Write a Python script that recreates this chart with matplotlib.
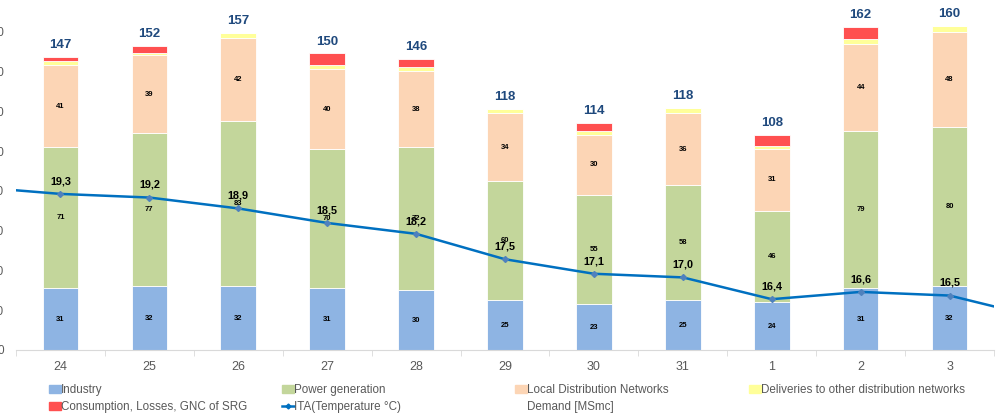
import numpy as np
import matplotlib
matplotlib.use("Agg")
import matplotlib.pyplot as plt
from matplotlib.patches import Patch
from matplotlib.lines import Line2D

plt.rcParams['font.family'] = ['Liberation Sans', 'DejaVu Sans']

# ===========================
# Data
# ===========================
days = ['24', '25', '26', '27', '28', '29', '30', '31', '1', '2', '3']
industry = [31, 32, 32, 31, 30, 25, 23, 25, 24, 31, 32]
power = [71, 77, 83, 70, 72, 60, 55, 58, 46, 79, 80]
ldn = [41, 39, 42, 40, 38, 34, 30, 36, 31, 44, 48]
deliveries = [2.3, 1.3, 2.5, 2.3, 2.3, 2.3, 2.2, 2.8, 1.3, 2.2, 2.8]
consumption = [2.1, 3.4, 0, 5.7, 3.8, 0, 4.0, 0, 5.8, 6.2, 0]
totals = [147, 152, 157, 150, 146, 118, 114, 118, 108, 162, 160]
temperature = [19.3, 19.2, 18.9, 18.5, 18.2, 17.5, 17.1, 17.0, 16.4, 16.6, 16.5]
# neighbouring days (outside the window, line runs off the edges)
temp_before = 19.5
temp_after = 15.9

c_ind = '#8EB4E3'
c_pow = '#C3D69B'
c_ldn = '#FCD5B5'
c_del = '#FFFF99'
c_con = '#FF5050'
c_line = '#0070C0'
c_grey = '#595959'

fig = plt.figure(figsize=(9.97, 4.2), dpi=100)
ax = fig.add_axes([16 / 997, 70 / 420, 978 / 997, 350 / 420])
ax2 = ax.twinx()

x = np.arange(len(days))
w = 0.40
bottom = np.zeros(len(days))
for vals, col, lab in [(industry, c_ind, True), (power, c_pow, True), (ldn, c_ldn, True),
                       (deliveries, c_del, False), (consumption, c_con, False)]:
    vals = np.array(vals, dtype=float)
    ax.bar(x, vals, w, bottom=bottom, color=col, edgecolor='white', linewidth=0.6)
    if lab:
        for xi, b, v in zip(x, bottom, vals):
            ax.text(xi, b + v / 2, f'{v:.0f}', ha='center', va='center',
                    fontsize=5.5, fontweight='bold', color='black')
    bottom += vals

for xi, top, t in zip(x, bottom, totals):
    ax.text(xi, top + 3, str(t), ha='center', va='bottom', fontsize=9.5,
            fontweight='bold', color='#1F497D')

ax.set_xlim(-0.5, len(days) - 0.5)
ax.set_ylim(0, 350 / 1.99)
ax.set_yticks(np.arange(0, 161, 20))
ax.tick_params(axis='y', length=0, pad=8.8, labelsize=8.5, labelcolor=c_grey)
ax.set_xticks(x)
ax.set_xticklabels(days)
ax.set_xticks(np.arange(-0.5, len(days), 1), minor=True)
ax.tick_params(axis='x', which='major', length=0, pad=8, labelsize=9, labelcolor=c_grey)
ax.tick_params(axis='x', which='minor', length=4, color='#D9D9D9')
for s in ['top', 'right', 'left']:
    ax.spines[s].set_visible(False)
ax.spines['bottom'].set_color('#D9D9D9')

# temperature line on secondary axis
xt = np.concatenate([[-1], x, [len(days)]])
yt = np.concatenate([[temp_before], temperature, [temp_after]])
ax2.plot(xt, yt, color=c_line, linewidth=1.8, zorder=3)
ax2.plot(x, temperature, linestyle='none', marker='D', markersize=3,
         color='#4F81BD', zorder=4)
for xi, t in zip(x, temperature):
    ax2.annotate(f'{t:.1f}'.replace('.', ','), (xi, t), xytext=(0, 5.5),
                 textcoords='offset points', ha='center', va='bottom',
                 fontsize=7.8, fontweight='bold', color='black')
ax2.set_ylim(15.0, 15.0 + 350 / 36.3)
ax2.set_yticks([])
for s in ax2.spines.values():
    s.set_visible(False)

# legend, laid out in four columns like the original
cols = [
    (49, [Patch(color=c_ind), Patch(color=c_con)],
     ['Industry', 'Consumption, Losses, GNC of SRG']),
    (282, [Patch(color=c_pow), Line2D([], [], color=c_line, marker='D', markersize=2.5, lw=1.8)],
     ['Power generation', 'ITA(Temperature °C)']),
    (515, [Patch(color=c_ldn), Patch(facecolor='none', edgecolor='none')],
     ['Local Distribution Networks', 'Demand [MSmc]']),
    (749, [Patch(color=c_del)], ['Deliveries to other distribution networks']),
]
for px, hs, ls in cols:
    leg = fig.legend(hs, ls, loc='upper left', bbox_to_anchor=(px / 997, 1 - 384 / 420),
                     frameon=False, fontsize=8.4, handlelength=1.0, handleheight=0.7,
                     handletextpad=0.05, labelspacing=0.45, borderpad=0, borderaxespad=0)
    for t in leg.get_texts():
        t.set_color(c_grey)

fig.savefig('out.png', dpi=100)
